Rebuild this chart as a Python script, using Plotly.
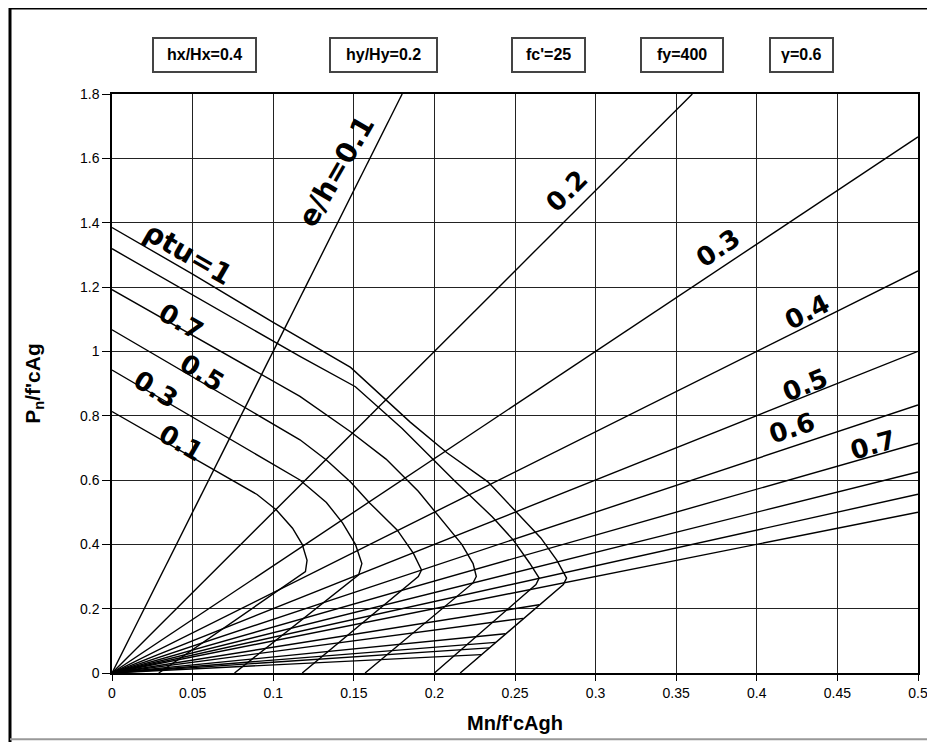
import plotly.graph_objects as go

# ---------------- data ----------------
# interaction curves (reinforcement index values)
rho_values = [0.1, 0.3, 0.5, 0.7, 0.9, 1.0]

M_rho_01 = [0.0, 0.05, 0.09, 0.102, 0.112, 0.118, 0.121, 0.120, 0.029]
P_rho_01 = [0.813, 0.671, 0.555, 0.507, 0.45, 0.40, 0.35, 0.315, 0.0]

M_rho_03 = [0.0, 0.06, 0.1166, 0.133, 0.143, 0.151, 0.155, 0.153, 0.076]
P_rho_03 = [0.942, 0.766, 0.600, 0.53, 0.467, 0.40, 0.34, 0.305, 0.0]

M_rho_05 = [0.0, 0.06, 0.1166, 0.133, 0.148, 0.160, 0.177, 0.187, 0.192, 0.190, 0.118]
P_rho_05 = [1.067, 0.891, 0.725, 0.662, 0.594, 0.528, 0.444, 0.372, 0.32, 0.30, 0.0]

M_rho_07 = [0.0, 0.06, 0.1166, 0.148, 0.170, 0.190, 0.205, 0.217, 0.224, 0.226, 0.224, 0.157]
P_rho_07 = [1.192, 1.020, 0.860, 0.750, 0.665, 0.565, 0.475, 0.40, 0.34, 0.30, 0.28, 0.0]

M_rho_09 = [0.0, 0.06, 0.1166, 0.151, 0.180, 0.212, 0.236, 0.249, 0.259, 0.265, 0.263, 0.200]
P_rho_09 = [1.319, 1.147, 0.984, 0.890, 0.760, 0.600, 0.485, 0.413, 0.342, 0.295, 0.275, 0.0]

M_rho_10 = [0.0, 0.05, 0.10, 0.148, 0.185, 0.208, 0.233, 0.250, 0.266, 0.276, 0.282, 0.280, 0.216]
P_rho_10 = [1.385, 1.240, 1.090, 0.950, 0.780, 0.684, 0.595, 0.505, 0.42, 0.35, 0.295, 0.275, 0.0]

curves_M = [M_rho_01, M_rho_03, M_rho_05, M_rho_07, M_rho_09, M_rho_10]
curves_P = [P_rho_01, P_rho_03, P_rho_05, P_rho_07, P_rho_09, P_rho_10]

# eccentricity lines e/h drawn from the origin to the frame
eh_long = [0.1, 0.2, 0.3, 0.4, 0.5, 0.6, 0.7, 0.8, 0.9, 1.0]
# larger eccentricities stop at the outer curve
eh_short = [1.25, 1.5, 2.0, 2.5, 3.0, 4.0]
eh_short_end_M = [0.265, 0.255, 0.244, 0.238, 0.234, 0.229]

x_ticks = [0, 0.05, 0.1, 0.15, 0.2, 0.25, 0.3, 0.35, 0.4, 0.45, 0.5]
x_tick_text = ["0", "0.05", "0.1", "0.15", "0.2", "0.25", "0.3", "0.35", "0.4", "0.45", "0.5"]
y_ticks = [0, 0.2, 0.4, 0.6, 0.8, 1.0, 1.2, 1.4, 1.6, 1.8]
y_tick_text = ["0", "0.2", "0.4", "0.6", "0.8", "1", "1.2", "1.4", "1.6", "1.8"]

header_texts = ["hx/Hx=0.4", "hy/Hy=0.2", "fc'=25", "fy=400", "γ=0.6"]

# curve labels: text, M, P, angle
curve_labels = [
    ("ρtu=1", 0.047, 1.304, 30),
    ("0.7", 0.043, 1.092, 30),
    ("0.5", 0.056, 0.933, 32),
    ("0.3", 0.027, 0.884, 32),
    ("0.1", 0.043, 0.715, 30),
]
eh_labels = [
    ("e/h=0.1", 0.139, 1.56, -60),
    ("0.2", 0.282, 1.497, -45),
    ("0.3", 0.376, 1.322, -34),
    ("0.4", 0.431, 1.123, -27),
    ("0.5", 0.430, 0.896, -22),
    ("0.6", 0.422, 0.761, -18),
    ("0.7", 0.472, 0.710, -16),
]

X_MAX, Y_MAX = 0.5, 1.8

# ---------------- figure ----------------
OFF = 8                       # page body margin of the browser
W, H = 935 - OFF, 742 - OFF
L = 112 - OFF
R = W - (918 - OFF)
T = 94 - OFF
B = H - (672.7 - OFF)
pw, ph = W - L - R, H - T - B


def px2paper(px):
    return (px - OFF - L) / pw


def py2paper(py):
    return (H - B - (py - OFF)) / ph


fig = go.Figure()
LW = 1.4
for M, P in zip(curves_M, curves_P):
    fig.add_trace(go.Scatter(x=M, y=P, mode="lines",
                             line=dict(color="black", width=LW),
                             hoverinfo="skip", showlegend=False))

for eh in eh_long:
    m_end = min(X_MAX, Y_MAX * eh)
    fig.add_trace(go.Scatter(x=[0, m_end], y=[0, m_end / eh], mode="lines",
                             line=dict(color="black", width=LW),
                             hoverinfo="skip", showlegend=False))
for eh, m_end in zip(eh_short, eh_short_end_M):
    fig.add_trace(go.Scatter(x=[0, m_end], y=[0, m_end / eh], mode="lines",
                             line=dict(color="black", width=LW),
                             hoverinfo="skip", showlegend=False))

hand_font = dict(family="DejaVu Sans", size=26, color="black")
for txt, mx, py, ang in curve_labels + eh_labels:
    size = 28 if txt.startswith("ρ") or txt.startswith("e/") else 26
    fig.add_annotation(x=mx, y=py, xref="x", yref="y", text="<b>%s</b>" % txt,
                       showarrow=False, textangle=ang,
                       font=dict(family="DejaVu Sans", size=size, color="black"),
                       xanchor="center", yanchor="middle")

narrow = "Liberation Sans Narrow, Liberation Sans, sans-serif"

box_px = [(153, 256), (330, 437), (512, 585), (641, 723), (770, 833)]
for (x0, x1), txt in zip(box_px, header_texts):
    fig.add_shape(type="rect", xref="paper", yref="paper",
                  x0=px2paper(x0), x1=px2paper(x1), y0=py2paper(72), y1=py2paper(38),
                  line=dict(color="#444", width=2), fillcolor="white")
    fig.add_annotation(xref="paper", yref="paper", x=px2paper((x0 + x1) / 2), y=py2paper(55),
                       xanchor="center", yanchor="middle",
                       text="<b>%s</b>" % txt, showarrow=False,
                       font=dict(family=narrow, size=16, color="black"))

# outer frame of the scanned figure
fig.add_shape(type="line", xref="paper", yref="paper", x0=px2paper(10), x1=px2paper(10),
              y0=py2paper(742), y1=py2paper(8), line=dict(color="black", width=3))
fig.add_shape(type="line", xref="paper", yref="paper", x0=px2paper(10), x1=px2paper(935),
              y0=py2paper(8), y1=py2paper(8), line=dict(color="black", width=3))
fig.add_shape(type="line", xref="paper", yref="paper", x0=px2paper(10), x1=px2paper(935),
              y0=py2paper(739), y1=py2paper(739), line=dict(color="#999", width=2))

axis_font = dict(family=narrow, size=14, color="black")
fig.update_xaxes(range=[0, X_MAX], tickvals=x_ticks, ticktext=x_tick_text,
                 showgrid=True, gridcolor="#222", gridwidth=1.2,
                 showline=True, linecolor="black", linewidth=1.5, mirror=True,
                 ticks="outside", ticklen=6, tickcolor="black", tickfont=axis_font,
                 zeroline=False,
                 title=dict(text="<b>Mn/f'cAgh</b>", font=dict(family=narrow, size=20, color="black"), standoff=16))
fig.update_yaxes(range=[0, Y_MAX], tickvals=y_ticks, ticktext=y_tick_text,
                 showgrid=True, gridcolor="#222", gridwidth=1.2,
                 showline=True, linecolor="black", linewidth=1.5, mirror=True,
                 ticks="outside", ticklen=8, tickcolor="black", tickfont=axis_font,
                 zeroline=False,
                 title=dict(text="<b>P<sub>n</sub>/f'cAg</b>", font=dict(family=narrow, size=21, color="black"), standoff=34))

fig.update_layout(width=W, height=H, margin=dict(l=L, r=R, t=T, b=B, autoexpand=False),
                  paper_bgcolor="white", plot_bgcolor="white", showlegend=False)

fig.write_html("out.html")
